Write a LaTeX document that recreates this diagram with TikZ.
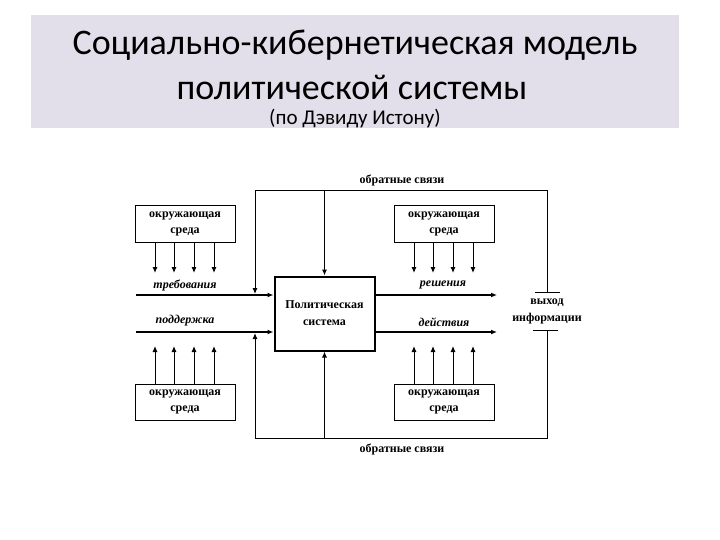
\documentclass[tikz,border=0pt]{standalone}
\usepackage{fontspec}
\setmainfont{Liberation Serif}
\newfontfamily\titlefont{Carlito}
\usetikzlibrary{arrows.meta}
\definecolor{band}{RGB}{227,223,234}
\begin{document}
\begin{tikzpicture}[x=1pt,y=-1pt,
  envbox/.style={draw,line width=1pt,minimum width=100pt,minimum height=36pt,inner sep=0pt,align=center,font=\fontsize{12}{16}\selectfont\bfseries},
  sysbox/.style={draw,line width=2pt,minimum width=100pt,minimum height=74pt,inner sep=0pt,align=center,font=\fontsize{12}{17}\selectfont\bfseries},
  thick line/.style={line width=2pt},
  thin line/.style={line width=1pt},
  tip/.style={-{Latex[length=6pt,width=5pt]}},
  flow/.style={font=\fontsize{12}{14}\selectfont\bfseries\itshape},
  lbl/.style={font=\fontsize{12}{14}\selectfont\bfseries},
]
\useasboundingbox (0,0) rectangle (720,540);
\fill[band] (31,15) rectangle (679,128);
\node[font=\titlefont\fontsize{36}{40}\selectfont] (t1) at (355,45) {Социально-кибернетическая модель};
\node[font=\titlefont\fontsize{36}{40}\selectfont] (t2) at (352,87) {политической системы};
\node[font=\titlefont\fontsize{21}{24}\selectfont] (t3) at (355,119) {(по Дэвиду Истону)};

% system box
\node[sysbox] (sys) at (324.5,313.5) {Политическая\\система};

% environment boxes
\node[envbox] (e1) at (185,224) {окружающая\\среда};
\node[envbox] (e2) at (444,224) {окружающая\\среда};
\node[envbox] (e3) at (185,402) {окружающая\\среда};
\node[envbox] (e4) at (444,402) {окружающая\\среда};

% feedback frame
\coordinate (tl) at (255,191);
\coordinate (tr) at (547,191);
\coordinate (bl) at (255,438);
\coordinate (br) at (547,438);
\coordinate (lt) at (255,294);
\coordinate (lb) at (255,333);
\coordinate (rt) at (547,292);
\coordinate (rb) at (547,330);
\coordinate (rt1) at (535,292);
\coordinate (rt2) at (560,292);
\coordinate (rb1) at (533,330);
\coordinate (rb2) at (558,330);
\draw[thin line,tip] (lt |- tl) -- (lt);
\draw[thin line] (tl) -- (tr) -- (rt);
\draw[thin line] (rt1) -- (rt2);
\draw[thin line] (rb1) -- (rb2);
\draw[thin line] (rb) -- (br) -- (bl);
\draw[thin line,tip] (bl) -- (lb);
\draw[thin line,tip] (sys.north |- tl) -- (sys.north);
\draw[thin line,tip] (sys.south |- bl) -- (sys.south);
\node[lbl] (fb1) at (402,180) {обратные связи};
\node[lbl] (fb2) at (402,449) {обратные связи};
\node[lbl,align=center,font=\fontsize{12}{17}\selectfont\bfseries] (out) at (547,311) {выход\\информации};

% inputs
\coordinate (in1) at (136,295);
\coordinate (in2) at (136,332);
\draw[thick line,tip] (in1) -- (in1 -| sys.west);
\draw[thick line,tip] (in2) -- (in2 -| sys.west);
\node[flow] (lreq) at (185,285) {требования};
\node[flow] (lsup) at (185,321) {поддержка};

% outputs
\coordinate (o1) at (497,295);
\coordinate (o2) at (497,332);
\draw[thick line,tip] (o1 -| sys.east) -- (o1);
\draw[thick line,tip] (o2 -| sys.east) -- (o2);
\node[flow] (ldec) at (443,285) {решения};
\node[flow] (lact) at (444,322) {действия};

% small arrows
\foreach \x/\n in {155/a,174/b,194/c,214/d}{
  \coordinate (d\n) at (\x,273);
  \draw[thin line,tip] (d\n |- e1.south) -- (d\n);
  \coordinate (u\n) at (\x,346);
  \draw[thin line,tip] (u\n |- e3.north) -- (u\n);
}
\foreach \x/\n in {414/a,433/b,453/c,473/d}{
  \coordinate (rd\n) at (\x,273);
  \draw[thin line,tip] (rd\n |- e2.south) -- (rd\n);
  \coordinate (ru\n) at (\x,346);
  \draw[thin line,tip] (ru\n |- e4.north) -- (ru\n);
}
\end{tikzpicture}
\end{document}
